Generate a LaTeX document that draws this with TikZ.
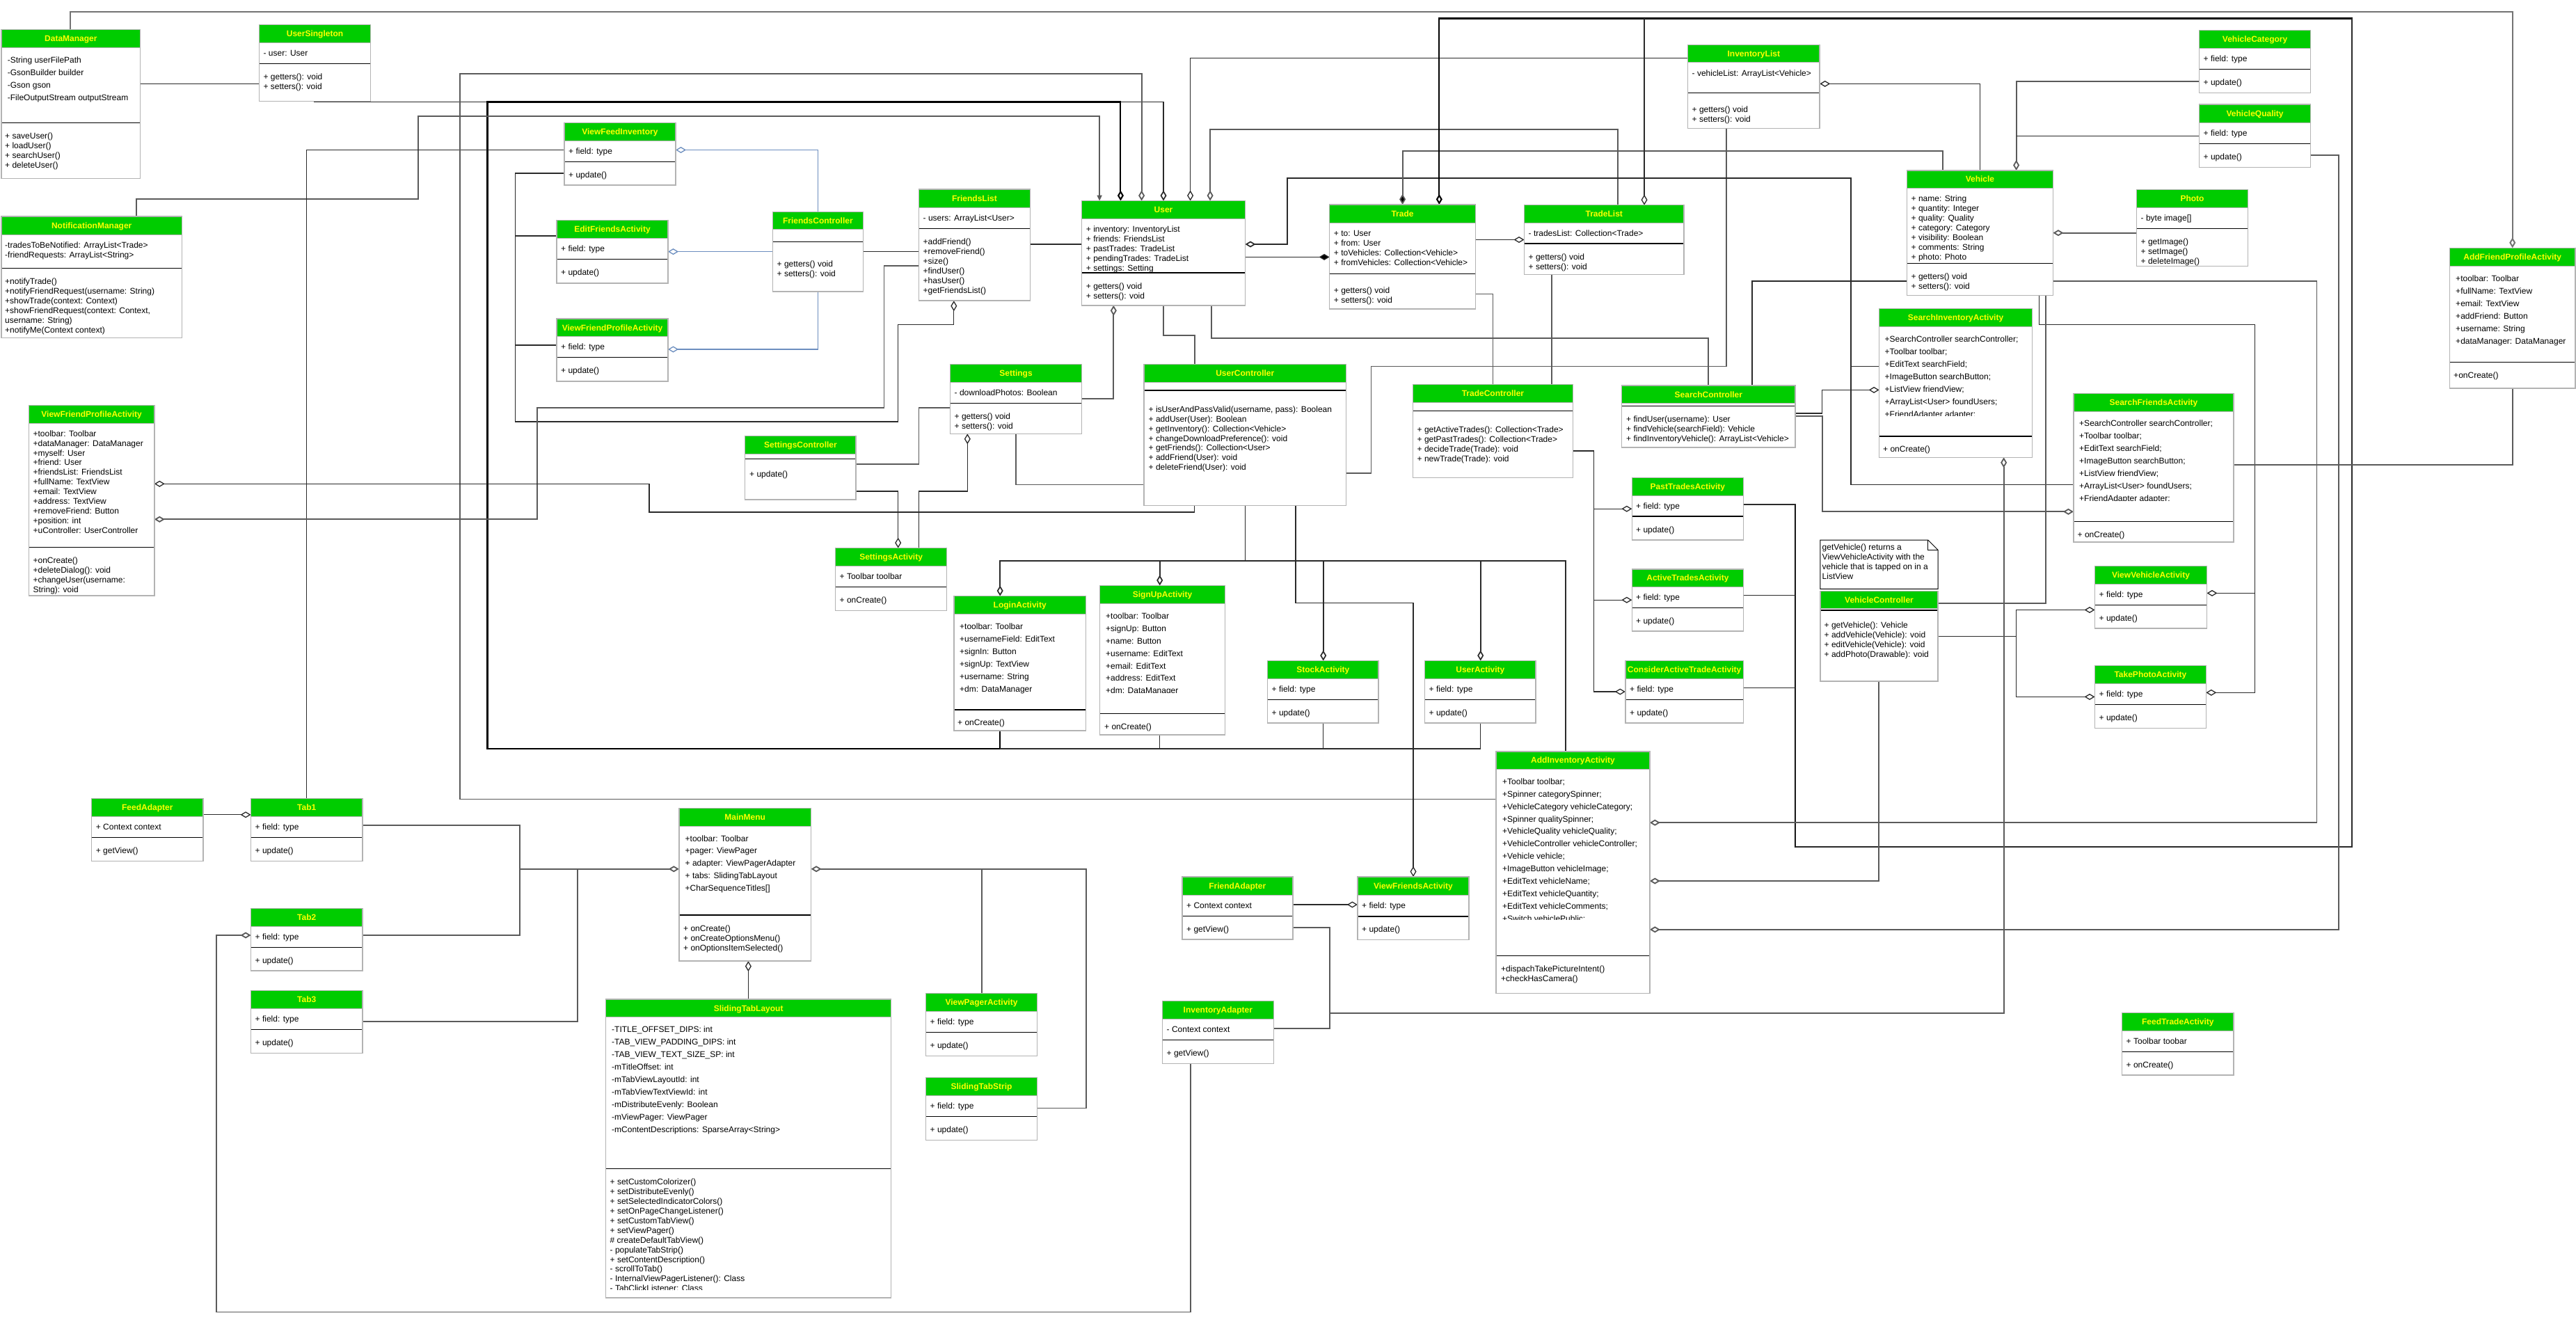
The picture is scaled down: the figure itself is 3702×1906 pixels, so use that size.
\documentclass[tikz,border=0pt]{standalone}
\usepackage{fontspec}
\setmainfont{Liberation Sans}
\usetikzlibrary{arrows.meta}
\pgfdeclarelayer{bg}
\pgfsetlayers{bg,main}
\definecolor{hdr}{HTML}{00CC00}
\definecolor{ttlc}{HTML}{FFFF00}
\definecolor{bord}{HTML}{B3B3B3}
\definecolor{lnc}{HTML}{2A2A2A}
\definecolor{lng}{HTML}{5A5A5A}
\definecolor{bluel}{HTML}{6C8EBF}
\newcommand\fs{\fontsize{12}{14}\selectfont}
\tikzset{
  clsbox/.style={fill=white, draw=none, inner sep=0pt, outer sep=0pt},
  ttl/.style={font=\fs\bfseries, text=ttlc, anchor=base, inner sep=0pt},
  tx/.style={font=\fs, anchor=base west, inner sep=0pt},
  cn/.style={draw=lnc, line width=1.3pt},
  cg/.style={draw=lng, line width=1.8pt},
  tk/.style={draw=black, line width=2.1pt},
  blu/.style={draw=bluel, line width=1.3pt},
  agg/.style={-{Diamond[length=15pt,width=9pt,fill=white]}},
  comp/.style={-{Diamond[length=15pt,width=9pt,fill=black]}},
  arr/.style={-{Triangle[length=8pt,width=7pt]}},
}
% class box: name, x1, y1, x2, y2, header bottom, divider, title
\newcommand\cls[8]{%
  \node[clsbox, minimum width={(#4-#2)*1pt}, minimum height={(#5-#3)*1pt}] (#1) at ({(#2+#4)/2},{(#3+#5)/2}) {};
  \fill[hdr] (#2,#3) rectangle (#4,#6);
  \draw[bord, line width=1pt] (#2,#6) -- (#4,#6);
  \draw[black, line width=1.5pt] (#2,#7) -- (#4,#7);
  \draw[bord, line width=1.5pt] (#2,#3) rectangle (#4,#5);
  \node[ttl] (#1t) at ({(#2+#4)/2},{(#3+#6)/2+4.3}) {#8};
}
% text block: prefix, x, first y, spacing, list
\newcommand\blk[5]{%
  \foreach \itm [count=\i from 0] in {#5} {
    \node[tx] (#1\i) at (#2,{#3+\i*#4+4.3}) {\itm};
  }
}
% two-line text: prefix, x, y1, y2, t1, t2
\newcommand\ft[6]{%
  \node[tx] (#1a) at (#2,{#3+4.3}) {#5};
  \node[tx] (#1b) at (#2,{#4+4.3}) {#6};
}
\begin{document}
\begin{tikzpicture}[x=1pt,y=-1pt]
\useasboundingbox (0,0) rectangle (3702,1906);

% ---------------- classes ----------------
\cls{DM}{2}{42.4}{201.7}{256.3}{68.6}{176.3}{DataManager}
\blk{DMa}{10.7}{85.7}{18.1}{-String userFilePath, -GsonBuilder builder, -Gson gson, -FileOutputStream outputStream}
\blk{DMm}{7}{194.7}{14}{+ saveUser(), + loadUser(), + searchUser(), + deleteUser()}

\cls{US}{372.5}{35.5}{532.6}{145.7}{61.2}{91.4}{UserSingleton}
\blk{USa}{378.4}{75.9}{14}{- user: User}
\blk{USm}{378.4}{109.8}{14.3}{+ getters(): void, + setters(): void}

\cls{NM}{1.8}{311}{261.6}{485.3}{337.6}{385.3}{NotificationManager}
\blk{NMa}{7}{351.8}{13.9}{-tradesToBeNotified: ArrayList<Trade>, -friendRequests: ArrayList<String>}
\blk{NMm}{7}{404}{13.98}{+notifyTrade(), +notifyFriendRequest(username: String), +showTrade(context: Context), {+showFriendRequest(context: Context,}, username: String), +notifyMe(Context context)}

\cls{VFPA}{41.5}{582.4}{221.8}{856.1}{608.2}{786.3}{ViewFriendProfileActivity}
\blk{VFPAa}{47.4}{622.9}{13.9}{+toolbar: Toolbar, +dataManager: DataManager, +myself: User, +friend: User, +friendsList: FriendsList, +fullName: TextView, +email: TextView, +address: TextView, +removeFriend: Button, +position: int}
\begin{scope}\clip (41.5,754) rectangle (221.8,765.5);
\blk{VFPAc}{47.4}{762.4}{13.9}{+uController: UserController}
\end{scope}
\blk{VFPAm}{47.4}{805.1}{13.9}{+onCreate(), +deleteDialog(): void, +changeUser(username:, String): void}

\cls{VFI}{810.8}{176.3}{971}{266}{202}{232.7}{ViewFeedInventory}
\ft{VFIf}{817}{216.7}{251}{+ field: type}{+ update()}
\cls{EFA}{800}{316.7}{960}{407}{342}{372.7}{EditFriendsActivity}
\ft{EFAf}{806}{357}{391}{+ field: type}{+ update()}
\cls{VFPAs}{800}{458}{960}{548}{483.7}{513.5}{ViewFriendProfileActivity}
\ft{VFPAsf}{806}{498}{532}{+ field: type}{+ update()}

\cls{FC}{1110.4}{304.5}{1240.3}{419}{329.8}{347.3}{FriendsController}
\blk{FCm}{1116.5}{378.8}{14.2}{+ getters() void, + setters(): void}

\cls{FL}{1320.4}{272.2}{1480.5}{432.2}{298.4}{328.6}{FriendsList}
\blk{FLa}{1326.5}{313}{14}{- users: ArrayList<User>}
\blk{FLm}{1326.5}{347}{13.94}{+addFriend(), +removeFriend(), +size(), +findUser(), +hasUser(), +getFriendsList()}

\cls{User}{1554.6}{288.6}{1789.5}{438.8}{314.3}{392.2}{User}
\blk{Usera}{1560.7}{329}{13.98}{+ inventory: InventoryList, + friends: FriendsList, + pastTrades: TradeList, + pendingTrades: TradeList, + settings: Setting}
\blk{Userm}{1560.7}{411}{13.9}{+ getters() void, + setters(): void}

\cls{Settings}{1365.4}{523.7}{1554.6}{623.3}{549.4}{579.6}{Settings}
\blk{Setta}{1371.5}{563.7}{14}{- downloadPhotos: Boolean}
\blk{Settm}{1371.5}{598}{13.8}{+ getters() void, + setters(): void}

\cls{SC}{1070.7}{626.5}{1230.2}{718.2}{652.4}{659.4}{SettingsController}
\blk{SCm}{1077}{681}{14}{+ update()}

\cls{SA}{1200.5}{787.6}{1360.7}{877.3}{813.3}{843.5}{SettingsActivity}
\ft{SAf}{1206.5}{828}{861.8}{+ Toolbar toolbar}{+ onCreate()}

\cls{UC}{1644.2}{523.7}{1934.3}{726.7}{549.4}{561.2}{UserController}
\blk{UCm}{1650.5}{587.8}{13.97}{{+ isUserAndPassValid(username, pass): Boolean}, + addUser(User): Boolean, + getInventory(): Collection<Vehicle>, + changeDownloadPreference(): void, + getFriends(): Collection<User>, + addFriend(User): void, + deleteFriend(User): void}

\cls{LA}{1370.8}{856.5}{1560.6}{1050}{882.2}{1020.2}{LoginActivity}
\blk{LAa}{1379}{899.8}{18.04}{+toolbar: Toolbar, +usernameField: EditText, +signIn: Button, +signUp: TextView, +username: String, +dm: DataManager}
\blk{LAm}{1376}{1038.6}{14}{+ onCreate()}

\cls{SU}{1580.7}{841.4}{1760.4}{1056}{867.1}{1025.5}{SignUpActivity}
\blk{SUa}{1589}{885.1}{17.9}{+toolbar: Toolbar, +signUp: Button, +name: Button, +username: EditText, +email: EditText, +address: EditText}
\begin{scope}\clip (1580.7,980) rectangle (1760.4,995.3);
\blk{SUc}{1589}{992.5}{17.9}{+dm: DataManager}
\end{scope}
\blk{SUm}{1587}{1043.9}{14}{+ onCreate()}

\cls{StA}{1821.5}{949.6}{1981}{1039}{975.3}{1005.5}{StockActivity}
\ft{StAf}{1827.5}{990}{1023.9}{+ field: type}{+ update()}
\cls{UA}{2047.6}{949.6}{2207.1}{1039}{975.3}{1005.5}{UserActivity}
\ft{UAf}{2053.5}{990}{1023.9}{+ field: type}{+ update()}

\cls{TC}{2030.4}{552.7}{2260.5}{686.3}{578.4}{590.6}{TradeController}
\blk{TCm}{2036.5}{616.7}{14.1}{+ getActiveTrades(): Collection<Trade>, + getPastTrades(): Collection<Trade>, + decideTrade(Trade): void, + newTrade(Trade): void}

\cls{SrC}{2330.5}{553.9}{2580.2}{643}{579.6}{583.7}{SearchController}
\blk{SrCm}{2337}{602}{13.9}{+ findUser(username): User, + findVehicle(searchField): Vehicle, + findInventoryVehicle(): ArrayList<Vehicle>}

\cls{Trade}{1910.6}{293.9}{2120.5}{444.1}{320}{393.5}{Trade}
\blk{Tra}{1916.7}{334.7}{14}{+ to: User, + from: User, + toVehicles: Collection<Vehicle>, + fromVehicles: Collection<Vehicle>}
\blk{Trm}{1916.7}{416.7}{14.3}{+ getters() void, + setters(): void}

\cls{TL}{2190.5}{294.7}{2420}{394.3}{320}{350.2}{TradeList}
\blk{TLa}{2196.5}{334.7}{14}{- tradesList: Collection<Trade>}
\blk{TLm}{2196.5}{369}{13.9}{+ getters() void, + setters(): void}

\cls{IL}{2425.4}{64.5}{2615.2}{184.5}{89.8}{133.5}{InventoryList}
\blk{ILa}{2431.5}{104.9}{14}{- vehicleList: ArrayList<Vehicle>}
\blk{ILm}{2431.5}{156.7}{14.3}{+ getters() void, + setters(): void}

\cls{Veh}{2740.4}{244.9}{2950.4}{424.5}{270.2}{378.4}{Vehicle}
\blk{Veha}{2746.5}{284.9}{14.01}{+ name: String, + quantity: Integer, + quality: Quality, + category: Category, + visibility: Boolean, + comments: String, + photo: Photo}
\blk{Vehm}{2746.5}{396.7}{14.3}{+ getters() void, + setters(): void}

\cls{VC}{3160.7}{43.3}{3320.5}{133.5}{69.4}{99.6}{VehicleCategory}
\ft{VCf}{3166.5}{84}{118}{+ field: type}{+ update()}
\cls{VQ}{3160.7}{150.2}{3320.5}{240.4}{176.3}{206.5}{VehicleQuality}
\ft{VQf}{3166.5}{191}{224.9}{+ field: type}{+ update()}

\cls{Photo}{3070.6}{272.7}{3230.4}{382.4}{298.4}{328.6}{Photo}
\blk{Pha}{3076.5}{313}{14}{- byte image[]}
\blk{Phm}{3076.5}{347}{13.85}{+ getImage(), + setImage(), + deleteImage()}

\cls{AFPA}{3520.6}{356.3}{3700.8}{558}{382}{520.4}{AddFriendProfileActivity}
\blk{AFPAa}{3529}{400}{17.96}{+toolbar: Toolbar, +fullName: TextView, +email: TextView, +addFriend: Button, +username: String, +dataManager: DataManager}
\blk{AFPAm}{3526}{538.8}{14}{+onCreate()}

\cls{SIA}{2700.6}{443.7}{2920.4}{657.3}{469.4}{627}{SearchInventoryActivity}
\blk{SIAa}{2708.5}{487}{17.95}{+SearchController searchController;, +Toolbar toolbar;, +EditText searchField;, +ImageButton searchButton;, +ListView friendView;, +ArrayList<User> foundUsers;}
\begin{scope}\clip (2700.6,585) rectangle (2920.4,597.6);
\blk{SIAc}{2708.5}{594.7}{17.95}{+FriendAdapter adapter;}
\end{scope}
\blk{SIAm}{2706}{645.5}{14}{+ onCreate()}

\cls{SFA}{2979.9}{565.3}{3210}{779}{591}{749.6}{SearchFriendsActivity}
\blk{SFAa}{2988}{608.6}{17.93}{+SearchController searchController;, +Toolbar toolbar;, +EditText searchField;, +ImageButton searchButton;, +ListView friendView;, +ArrayList<User> foundUsers;}
\begin{scope}\clip (2979.9,705) rectangle (3210,719);
\blk{SFAc}{2988}{716.2}{17.93}{+FriendAdapter adapter;}
\end{scope}
\blk{SFAm}{2985.5}{768}{14}{+ onCreate()}

% note
\node[inner sep=0pt, outer sep=0pt, minimum width=169.4pt, minimum height=70.2pt] (note) at (2700.5,811.2) {};
\draw[line width=1pt, fill=white] (2615.8,776.1) -- (2770.8,776.1) -- (2785.2,790.5) -- (2785.2,846.3) -- (2615.8,846.3) -- cycle;
\draw[line width=1pt] (2770.8,776.1) -- (2770.8,790.5) -- (2785.2,790.5);
\blk{nt}{2618.5}{785.9}{14.03}{getVehicle() returns a, ViewVehicleActivity with the, vehicle that is tapped on in a, ListView}

\cls{VCtl}{2615.8}{849.6}{2785.2}{979}{874.9}{877}{VehicleController}
\blk{VCtlm}{2621.5}{897.8}{14}{+ getVehicle(): Vehicle, + addVehicle(Vehicle): void, + editVehicle(Vehicle): void, + addPhoto(Drawable): void}

\cls{VVA}{3010.5}{813.3}{3171.5}{903}{839}{869.6}{ViewVehicleActivity}
\ft{VVAf}{3016.5}{853.7}{888}{+ field: type}{+ update()}
\cls{TPA}{3010.5}{956.5}{3170.3}{1046.3}{982.2}{1012.4}{TakePhotoActivity}
\ft{TPAf}{3016.5}{996.9}{1030.8}{+ field: type}{+ update()}

\cls{PTA}{2345.3}{686.3}{2505.5}{776.1}{712}{742.2}{PastTradesActivity}
\ft{PTAf}{2351}{727.1}{761}{+ field: type}{+ update()}
\cls{ATA}{2345.3}{817.8}{2505.5}{907.1}{843}{873.7}{ActiveTradesActivity}
\ft{ATAf}{2351}{857.8}{892}{+ field: type}{+ update()}
\cls{CATA}{2335.8}{949.6}{2505.5}{1039}{975.3}{1005.5}{ConsiderActiveTradeActivity}
\ft{CATAf}{2342}{990}{1023.9}{+ field: type}{+ update()}

\cls{AIA}{2150.2}{1079.8}{2370.8}{1427.3}{1105.1}{1373.3}{AddInventoryActivity}
\blk{AIAa}{2159}{1123}{17.9}{+Toolbar toolbar;, +Spinner categorySpinner;, +VehicleCategory vehicleCategory;, +Spinner qualitySpinner;, +VehicleQuality vehicleQuality;, +VehicleController vehicleController;, +Vehicle vehicle;, +ImageButton vehicleImage;, +EditText vehicleName;, +EditText vehicleQuantity;, +EditText vehicleComments;}
\begin{scope}\clip (2150.2,1310) rectangle (2370.8,1321.5);
\blk{AIAc}{2159}{1319.9}{17.9}{+Switch vehiclePublic;}
\end{scope}
\blk{AIAm}{2157}{1391.9}{14}{+dispachTakePictureIntent(), +checkHasCamera()}

\cls{VFA}{1950.9}{1260}{2111}{1350.6}{1286.8}{1316.9}{ViewFriendsActivity}
\ft{VFAf}{1957}{1300.8}{1335}{+ field: type}{+ update()}
\cls{FA}{1698.8}{1260}{1857.8}{1350.2}{1286.8}{1316.4}{FriendAdapter}
\ft{FAf}{1705}{1300.8}{1335}{+ Context context}{+ getView()}
\cls{IA}{1670.3}{1438.4}{1830.4}{1528.6}{1464.4}{1494.4}{InventoryAdapter}
\ft{IAf}{1676.5}{1478.8}{1513}{- Context context}{+ getView()}

\cls{MM}{975.8}{1161.4}{1165.6}{1381.1}{1187.1}{1315.2}{MainMenu}
\blk{MMa}{984.5}{1204.7}{17.95}{+toolbar: Toolbar, +pager: ViewPager, + adapter: ViewPagerAdapter, + tabs: SlidingTabLayout, +CharSequenceTitles[]}
\blk{MMm}{982}{1333.8}{14}{+ onCreate(), + onCreateOptionsMenu(), + onOptionsItemSelected()}

\cls{STL}{870.7}{1436}{1280.6}{1864.9}{1461.5}{1679.5}{SlidingTabLayout}
\blk{STLa}{879}{1478.8}{18.03}{-TITLE\_OFFSET\_DIPS: int, -TAB\_VIEW\_PADDING\_DIPS: int, -TAB\_VIEW\_TEXT\_SIZE\_SP: int, -mTitleOffset: int, -mTabViewLayoutId: int, -mTabViewTextViewId: int, -mDistributeEvenly: Boolean, -mViewPager: ViewPager, -mContentDescriptions: SparseArray<String>}
\blk{STLm}{876.5}{1698}{13.96}{+ setCustomColorizer(), + setDistributeEvenly(), + setSelectedIndicatorColors(), + setOnPageChangeListener(), + setCustomTabView(), + setViewPager(), \# createDefaultTabView(), - populateTabStrip(), + setContentDescription(), - scrollToTab(), - InternalViewPagerListener(): Class}
\begin{scope}\clip (870.7,1844) rectangle (1280.6,1853.5);
\blk{STLc}{876.5}{1851.6}{14}{- TabClickListener: Class}
\end{scope}

\cls{VPA}{1330.4}{1427.7}{1490.6}{1517.5}{1453.2}{1483.7}{ViewPagerActivity}
\ft{VPAf}{1336.5}{1468}{1501.9}{+ field: type}{+ update()}
\cls{STS}{1330.4}{1548.4}{1490.6}{1638.3}{1574.4}{1604.5}{SlidingTabStrip}
\ft{STSf}{1336.5}{1588.8}{1623}{+ field: type}{+ update()}

\cls{Tab1}{360.6}{1147.6}{520.8}{1237.3}{1173.3}{1203.5}{Tab1}
\ft{Tab1f}{366.5}{1188}{1221.8}{+ field: type}{+ update()}
\cls{FdA}{131.7}{1147.6}{291.8}{1237.3}{1173.3}{1203.5}{FeedAdapter}
\ft{FdAf}{137.7}{1188}{1221.8}{+ Context context}{+ getView()}
\cls{Tab2}{360.6}{1305.3}{520.8}{1395.1}{1331.3}{1361.4}{Tab2}
\ft{Tab2f}{366.5}{1345.7}{1379.9}{+ field: type}{+ update()}
\cls{Tab3}{360.6}{1423.6}{520.8}{1513.4}{1449.5}{1479.6}{Tab3}
\ft{Tab3f}{366.5}{1464}{1497.7}{+ field: type}{+ update()}

\cls{FTA}{3049.6}{1455.3}{3210}{1545.1}{1481.3}{1511.3}{FeedTradeActivity}
\ft{FTAf}{3055.5}{1496.1}{1529.9}{+ Toolbar toobar}{+ onCreate()}

% ---------------- connectors ----------------
\begin{pgfonlayer}{bg}
\fill[white] (0,0) rectangle (3702,1906);
% DataManager -> AddFriendProfileActivity
\draw[cg,draw=black!55,line width=2pt,agg] (101,0|-DM.north) -- (101,16.7) -- (3610.7,16.7) -- (3610.7,0|-AFPA.north);
\draw[cn] (DM.east|-0,120.4) -- (US.west|-0,120.4);
% UserSingleton & activities -> User
\draw[cn,line width=1.7pt,agg] (452,0|-US.south) -- (452,146.5) -- (1672,146.5) -- (1672,0|-User.north);
\draw[tk,agg] (1437.2,0|-LA.south) -- (1437.2,1076) -- (700.5,1076) -- (700.5,146.5) -- (1610.4,146.5) -- (1610.4,0|-User.north);
\draw[cn] (1666.7,0|-SU.south) -- (1666.7,1076) -- (1437.2,1076);
\draw[cn] (1901.7,0|-StA.south) -- (1901.7,1076) -- (1437.2,1076);
\draw[cn] (2127.7,0|-UA.south) -- (2127.7,1076) -- (1901.7,1076);
% NotificationManager -> User
\draw[cg,arr] (196,0|-NM.north) -- (196,285.7) -- (601,285.7) -- (601,167) -- (1580.1,167) -- (1580.1,0|-User.north);
% Tab1 -> ViewFeedInventory
\draw[cn] (440.7,0|-Tab1.north) -- (440.7,215.5) -- (VFI.west|-0,215.5);
% AddInventoryActivity -> User
\draw[cg,agg] (AIA.west|-0,1148.4) -- (660.7,1148.4) -- (660.7,106) -- (1640.6,106) -- (1640.6,0|-User.north);
% InventoryList, TradeList -> User
\draw[cn,agg] (IL.west|-0,83.3) -- (1710.6,83.3) -- (1710.6,0|-User.north);
\draw[cg,agg] (2325,0|-TL.north) -- (2325,185.7) -- (1739.1,185.7) -- (1739.1,0|-User.north);
% small activities -> FriendsList
\draw[cn,agg] (VFI.west|-0,249) -- (740.8,249) -- (740.8,606) -- (1290.7,606) -- (1290.7,466.5) -- (1370.8,466.5) -- (1370.8,0|-FL.south);
\draw[cn] (EFA.west|-0,339) -- (740.8,339);
\draw[cn] (VFPAs.west|-0,496) -- (740.8,496);
% FriendsController (blue)
\draw[blu,agg] (1175.6,0|-FC.north) -- (1175.6,215.5) -- (VFI.east|-0,215.5);
\draw[blu,agg] (FC.west|-0,361.6) -- (EFA.east|-0,361.6);
\draw[blu,agg] (1175.6,0|-FC.south) -- (1175.6,502) -- (VFPAs.east|-0,502);
\draw[cn] (FC.east|-0,361.6) -- (FL.west|-0,361.6);
\draw[cn] (FL.east|-0,351) -- (User.west|-0,351);
% ViewFriendProfileActivity (big)
\draw[cg,agg] (FL.west|-0,381.6) -- (1270.5,381.6) -- (1270.5,585.7) -- (771.6,585.7) -- (771.6,746.3) -- (VFPA.east|-0,746.3);
\draw[cn,agg] (1716.6,0|-UC.south) -- (1716.6,736) -- (933,736) -- (933,695.3) -- (VFPA.east|-0,695.3);
% Settings
\draw[cg,agg] (Settings.east|-0,572.7) -- (1600.3,572.7) -- (1600.3,0|-User.south);
\draw[cg] (1716.6,0|-UC.north) -- (1716.6,481.6) -- (1672,481.6) -- (1672,0|-User.south);
\draw[cg] (2455,0|-SrC.north) -- (2455,485.7) -- (1740.8,485.7) -- (1740.8,0|-User.south);
\draw[cg] (SC.east|-0,666.7) -- (1320.4,666.7) -- (1320.4,585.7) -- (Settings.west|-0,585.7);
\draw[cn,agg] (SC.east|-0,706) -- (1290.7,706) -- (1290.7,0|-SA.north);
\draw[cn,agg] (1320.4,0|-SA.north) -- (1320.4,706) -- (1390.3,706) -- (1390.3,0|-Settings.south);
\draw[cg] (1459.7,0|-Settings.south) -- (1459.7,696.5) -- (UC.west|-0,696.5);
% UserController -> activities
\foreach \xx/\nn in {1437.2/LA, 1666.7/SU, 1901.7/StA, 2127.7/UA}
  \draw[cn,line width=1.7pt,agg] (1789.5,0|-UC.south) -- (1789.5,806.3) -- (\xx,806.3) -- (\xx,0|-\nn.north);
\draw[cn,line width=1.7pt] (1789.5,0|-UC.south) -- (1789.5,806.3) -- (2249.8,806.3) -- (2249.8,0|-AIA.north);
\draw[cn,agg] (1862,0|-UC.south) -- (1862,866.7) -- (2031,866.7) -- (2031,0|-VFA.north);
\draw[cg] (UC.east|-0,679.8) -- (1970.5,679.8) -- (1970.5,526.5) -- (2480.6,526.5) -- (2480.6,0|-IL.south);
% search activities -> User
\draw[cn,line width=1.7pt,agg] (SIA.west|-0,526.5) -- (2659.7,526.5) -- (2659.7,256.3) -- (1850,256.3) -- (1850,351) -- (User.east|-0,351);
\draw[cn,line width=1.7pt] (SFA.west|-0,696.5) -- (2659.7,696.5) -- (2659.7,526.5);
% Trade
\draw[cn,comp] (User.east|-0,369.4) -- (Trade.west|-0,369.4);
\draw[cn,agg] (Trade.east|-0,344.5) -- (TL.west|-0,344.5);
\draw[cg,comp] (2791.8,0|-Veh.north) -- (2791.8,216.7) -- (2015.6,216.7) -- (2015.6,0|-Trade.north);
\draw[tk,agg] (PTA.east|-0,725.1) -- (2580.2,725.1) -- (2580.2,1217) -- (3380,1217) -- (3380,26.5) -- (2068.3,26.5) -- (2068.3,0|-Trade.north);
\draw[cn,agg] (PTA.east|-0,725.1) -- (2580.2,725.1) -- (2580.2,1217) -- (3380,1217) -- (3380,26.5) -- (2363,26.5) -- (2363,0|-TL.north);
\draw[cn] (ATA.east|-0,855.7) -- (2580.2,855.7);
\draw[cn] (CATA.east|-0,988.4) -- (2580.2,988.4);
\draw[cg] (Trade.east|-0,422.4) -- (2145.5,422.4) -- (2145.5,0|-TC.north);
\draw[cg] (2229.7,0|-TL.south) -- (2229.7,0|-TC.north);
\foreach \yy/\nn in {731.2/PTA, 862.2/ATA, 994/CATA}
  \draw[cn,agg] (TC.east|-0,648) -- (2290.8,648) -- (2290.8,\yy) -- (\nn.west|-0,\yy);
% Vehicle
\draw[cn,agg] (2845.3,0|-Veh.north) -- (2845.3,120.4) -- (IL.east|-0,120.4);
\draw[cg,agg] (VC.west|-0,117.1) -- (2897.6,117.1) -- (2897.6,0|-Veh.north);
\draw[cn] (VQ.west|-0,195.5) -- (2897.6,195.5);
\draw[cg,agg] (Photo.west|-0,334.7) -- (Veh.east|-0,334.7);
\draw[cg,agg] (Veh.east|-0,404) -- (3329.5,404) -- (3329.5,1182.2) -- (AIA.east|-0,1182.2);
\foreach \yy/\nn in {852.4/VVA, 995.3/TPA}
  \draw[cn,agg] (2930.6,0|-Veh.south) -- (2930.6,466.5) -- (3240.6,466.5) -- (3240.6,\yy) -- (\nn.east|-0,\yy);
\draw[cg] (2940.2,0|-Veh.south) -- (2940.2,866.7) -- (VCtl.east|-0,866.7);
\draw[cn] (2518,0|-SrC.north) -- (2518,404) -- (Veh.west|-0,404);
\draw[cn,agg] (SrC.east|-0,593.9) -- (2618.8,593.9) -- (2618.8,560.4) -- (SIA.west|-0,560.4);
\draw[cg,agg] (SrC.east|-0,598) -- (2618.8,598) -- (2618.8,735.3) -- (SFA.west|-0,735.3);
\draw[cg] (SFA.east|-0,668) -- (3610.7,668) -- (3610.7,0|-AFPA.south);
\foreach \yy/\nn in {876.5/VVA, 1001.4/TPA}
  \draw[cn,agg] (VCtl.east|-0,914.5) -- (2897.6,914.5) -- (2897.6,\yy) -- (\nn.west|-0,\yy);
\draw[cg,agg] (2700,0|-VCtl.south) -- (2700,1266) -- (AIA.east|-0,1266);
\draw[cg,agg] (VQ.east|-0,222.9) -- (3360.8,222.9) -- (3360.8,1335.8) -- (AIA.east|-0,1335.8);
% adapters
\draw[cg,agg] (FA.east|-0,1333.3) -- (1911.2,1333.3) -- (1911.2,1455.7) -- (2879.6,1455.7) -- (2879.6,0|-SIA.south);
\draw[cg] (IA.east|-0,1477.6) -- (1911.2,1477.6) -- (1911.2,1455.7);
\draw[cn,agg] (FA.east|-0,1300) -- (VFA.west|-0,1300);
\draw[cg,agg] (1710.6,0|-IA.south) -- (1710.6,1885.5) -- (310.8,1885.5) -- (310.8,1344) -- (Tab2.west|-0,1344);
\draw[cn,agg] (FdA.east|-0,1170.8) -- (Tab1.west|-0,1170.8);
% MainMenu
\draw[cg,agg] (Tab1.east|-0,1185.9) -- (747.3,1185.9) -- (747.3,1248.8) -- (MM.west|-0,1248.8);
\draw[cg] (Tab2.east|-0,1344) -- (747.3,1344) -- (747.3,1248.8);
\draw[cg] (Tab3.east|-0,1468) -- (829.8,1468) -- (829.8,1248.8);
\draw[cg,agg] (1411,0|-VPA.north) -- (1411,1248.8) -- (MM.east|-0,1248.8);
\draw[cg] (STS.east|-0,1592.5) -- (1560.6,1592.5) -- (1560.6,1248.8) -- (1411,1248.8);
\draw[cn,agg] (1075.4,0|-STL.north) -- (1075.4,0|-MM.south);
\end{pgfonlayer}
\end{tikzpicture}
\end{document}
